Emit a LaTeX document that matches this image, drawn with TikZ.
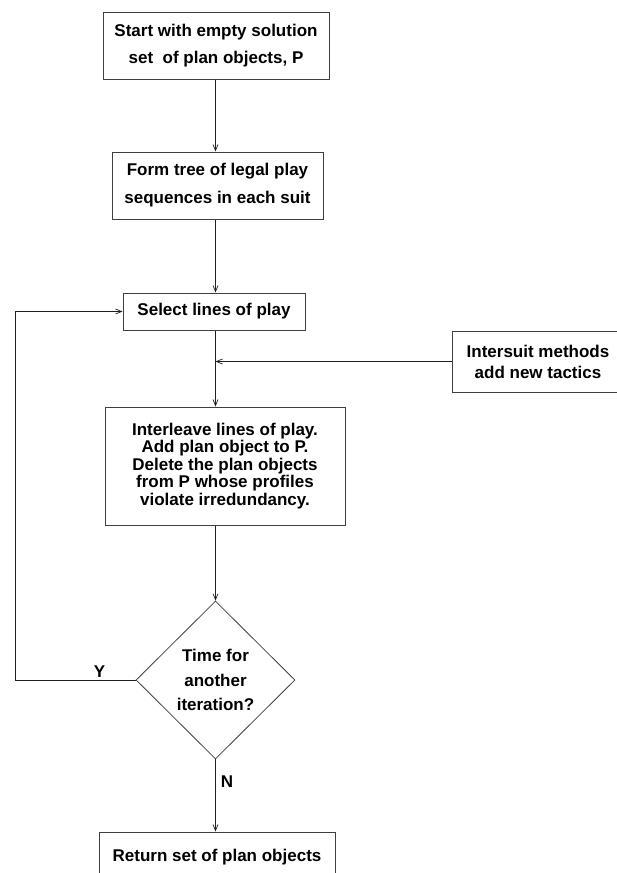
\documentclass[tikz,border=0pt]{standalone}
\usepackage{fontspec}
\setmainfont{Liberation Sans}
\usetikzlibrary{shapes.geometric,arrows.meta,positioning,calc}
\definecolor{boxline}{HTML}{404040}
\definecolor{wireline}{HTML}{202020}
\tikzset{
  procbox/.style={rectangle,draw=boxline,line width=1pt,align=center,inner sep=0pt,
    font=\fontsize{17}{17.5}\selectfont\bfseries},
  testbox/.style={diamond,draw=boxline,line width=0.8pt,align=center,inner sep=0pt,
    minimum width=159pt,minimum height=158pt,font=\fontsize{17}{17.5}\selectfont\bfseries},
  flow/.style={draw=wireline,line width=0.7pt,-{Straight Barb[length=6pt,width=5pt]}},
  tag/.style={font=\fontsize{17}{17.5}\selectfont\bfseries,inner sep=1pt}
}

\begin{document}
\begin{tikzpicture}[x=1pt,y=-1pt]
\useasboundingbox (0,0) rectangle (617,873);
\node[procbox,minimum width=226pt,minimum height=67pt] (start) at (216,45.5)
  {Start with empty solution\\[9.5pt]set~ of plan objects, P};
\node[procbox,minimum width=211pt,minimum height=67pt] (tree) at (217.5,185.5)
  {Form tree of legal play\\[10.5pt]sequences in each suit};
\node[procbox,minimum width=182pt,minimum height=37pt] (select) at (214,311.5)
  {Select lines of play};
\node[procbox,minimum width=172pt,minimum height=61pt] (intersuit) at (538,361.5)
  {Intersuit methods\\[3.5pt]add new tactics};
\node[procbox,minimum width=240pt,minimum height=118pt] (interleave) at (225,466)
  {Interleave lines of play.\\Add plan object to P.\\Delete the plan objects\\
   from P whose profiles\\violate irredundancy.};
\node[testbox] (decide) at (215.5,680)
  {Time for\\[7pt]another\\[7pt]iteration?};
\node[procbox,minimum width=236pt,minimum height=50pt] (result) at (217,857)
  {Return set of plan objects};
\coordinate (loop) at (15,680);

% main line
\draw[flow] (start.south -| decide) -- (tree.north -| decide);
\draw[flow] (tree.south -| decide) -- (select.north -| decide);
\draw[flow] (select.south -| decide) -- (interleave.north -| decide);
\draw[flow] (intersuit.west) -- (intersuit.west -| decide);
\draw[flow] (interleave.south -| decide) -- (decide.north);
\draw[flow] (decide.south) -- node[tag,right=4pt,pos=0.31] {N} (result.north -| decide);
% back to the selection
\draw[flow] (decide.west) -- node[tag,above=1pt,pos=0.3] {Y} (loop) |- (select.west);
\end{tikzpicture}
\end{document}
